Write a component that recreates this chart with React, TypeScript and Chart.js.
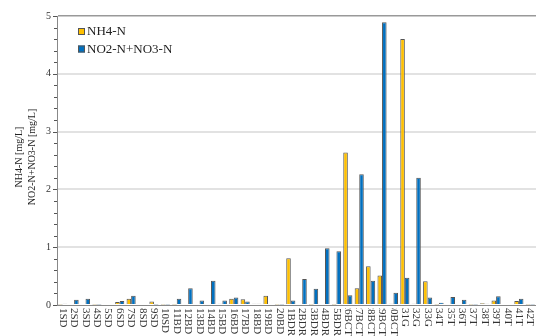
import { useEffect, useRef } from "react";
import { Chart, registerables } from "chart.js";

Chart.register(...registerables);

// Sampling points
const categories = [
  "1SD", "2SD", "3SD", "4SD", "5SD", "6SD", "7SD", "8SD", "9SD", "10SD",
  "11BD", "12BD", "13BD", "14BD", "15BD", "16BD", "17BD", "18BD", "19BD", "20BD",
  "21BDR", "22BDR", "23BDR", "24BDR", "25BDR",
  "26BCT", "27BCT", "28BCT", "29BCT", "30BCT",
  "31G", "32G", "33G",
  "34T", "35T", "36T", "37T", "38T", "39T", "40T", "41T", "42T",
];

// Concentrations in mg/L
const nh4 = [
  0.01, 0, 0, 0.01, 0, 0.05, 0.11, 0, 0.06, 0.01,
  0.01, 0, 0, 0, 0.02, 0.11, 0.1, 0.02, 0.16, 0.01,
  0.81, 0, 0.01, 0, 0.01,
  2.64, 0.29, 0.67, 0.51, 0.02,
  4.6, 0.02, 0.41,
  0.01, 0, 0, 0.01, 0.03, 0.08, 0, 0.07, 0.01,
];

const no2no3 = [
  0.02, 0.09, 0.11, 0.01, 0, 0.07, 0.16, 0, 0.01, 0.01,
  0.11, 0.29, 0.08, 0.42, 0.08, 0.13, 0.06, 0.02, 0, 0.01,
  0.08, 0.45, 0.28, 0.98, 0.93,
  0.17, 2.26, 0.42, 4.89, 0.21,
  0.47, 2.2, 0.13,
  0.04, 0.14, 0.09, 0.01, 0.02, 0.15, 0, 0.11, 0.01,
];

const seriesNames = ["NH4-N", "NO2-N+NO3-N"];
const yTitleLines = ["NH4-N [mg/L]", "NO2-N+NO3-N [mg/L]"];
const yMax = 5;
const yMinorStep = 0.2;

const YELLOW = "#FFC000";
const BLUE = "#0070C0";
const OUTLINE = "#555555";
const SERIF = '"Liberation Serif", "Times New Roman", serif';

const isWhole = (v: number) => Math.abs(v - Math.round(v)) < 1e-6;

const overlay = {
  id: "overlay",
  afterDraw(chart: any) {
    const { ctx, chartArea: area } = chart;
    const xs = chart.scales.x;
    const ys = chart.scales.y;

    // small tick marks on the value axis, one per step
    ctx.save();
    ctx.strokeStyle = "#555";
    ctx.lineWidth = 1;
    ys.ticks.forEach((t: any) => {
      const py = Math.round(ys.getPixelForValue(t.value)) + 0.5;
      const len = isWhole(t.value) ? 4 : 3;
      ctx.beginPath();
      ctx.moveTo(area.left - len, py);
      ctx.lineTo(area.left, py);
      ctx.stroke();
    });
    ctx.restore();

    // vertical category labels below the axis, reading downward
    ctx.save();
    ctx.beginPath();
    ctx.rect(0, area.bottom + 3, chart.width, chart.height);
    ctx.clip();
    ctx.font = `11px ${SERIF}`;
    ctx.fillStyle = "#333";
    ctx.textAlign = "left";
    ctx.textBaseline = "middle";
    categories.forEach((label, i) => {
      const px = xs.getPixelForValue(i);
      const w = ctx.measureText(label).width;
      const start = Math.min(area.bottom + 3, chart.height - w);
      ctx.save();
      ctx.translate(px, start);
      ctx.rotate(Math.PI / 2);
      ctx.fillText(label, 0, 0);
      ctx.restore();
    });
    ctx.restore();

    // two-line y axis title
    ctx.save();
    ctx.font = `10px ${SERIF}`;
    ctx.fillStyle = "#222";
    ctx.textAlign = "center";
    ctx.textBaseline = "middle";
    const cy = 157;
    [19, 32].forEach((x, k) => {
      ctx.save();
      ctx.translate(x, cy);
      ctx.rotate(-Math.PI / 2);
      ctx.fillText(yTitleLines[k], 0, 0);
      ctx.restore();
    });
    ctx.restore();

    // legend inside the plot, top left
    ctx.save();
    ctx.font = `13px ${SERIF}`;
    ctx.textAlign = "left";
    ctx.textBaseline = "middle";
    const colors = [YELLOW, BLUE];
    [31.5, 49].forEach((y, k) => {
      ctx.fillStyle = colors[k];
      ctx.fillRect(78, y - 3.5, 7, 7);
      ctx.strokeStyle = OUTLINE;
      ctx.lineWidth = 1;
      ctx.strokeRect(78.5, y - 3, 6, 6);
      ctx.fillStyle = "#222";
      ctx.fillText(seriesNames[k], 87, y + 0.5);
    });
    ctx.restore();
  },
};

export default function App() {
  const ref = useRef<HTMLCanvasElement | null>(null);

  useEffect(() => {
    if (!ref.current) return;
    const chart = new Chart(ref.current, {
      type: "bar",
      data: {
        labels: categories,
        datasets: [
          {
            label: seriesNames[0],
            data: nh4,
            backgroundColor: YELLOW,
            borderColor: OUTLINE,
            borderWidth: 1,
          },
          {
            label: seriesNames[1],
            data: no2no3,
            backgroundColor: BLUE,
            borderColor: OUTLINE,
            borderWidth: 1,
          },
        ],
      },
      options: {
        animation: false,
        responsive: false,
        devicePixelRatio: 1,
        layout: { padding: { top: 16, bottom: 31, left: 0, right: 0 } },
        datasets: { bar: { categoryPercentage: 0.8, barPercentage: 1.0 } },
        plugins: {
          legend: { display: false },
          tooltip: { enabled: false },
        },
        scales: {
          x: {
            afterFit: (s: any) => {
              s.height = 0;
            },
            grid: { display: false },
            ticks: { display: false },
            border: { display: true, color: "#888", width: 1 },
          },
          y: {
            min: 0,
            max: yMax,
            afterFit: (s: any) => {
              s.width = 57;
            },
            ticks: {
              stepSize: yMinorStep,
              autoSkip: false,
              padding: 6,
              color: "#333",
              font: { family: SERIF, size: 10 },
              callback: (v: any) => (isWhole(Number(v)) ? String(Math.round(Number(v))) : ""),
            },
            grid: {
              drawTicks: false,
              lineWidth: (c: any) => (c.tick && Math.round(c.tick.value) === yMax ? 1.5 : 2),
              color: (c: any) => {
                const v = c.tick ? c.tick.value : 0;
                if (!isWhole(v) || Math.round(v) === 0) return "rgba(0,0,0,0)";
                return Math.round(v) === yMax ? "#999" : "#e2e2e2";
              },
            },
            border: { display: true, color: "#888", width: 1 },
          },
        },
      },
      plugins: [overlay],
    });
    return () => chart.destroy();
  }, []);

  return (
    <div style={{ position: "fixed", left: 0, top: 0, width: 536, height: 336, background: "#fff" }}>
      <canvas ref={ref} width={536} height={336} />
    </div>
  );
}
